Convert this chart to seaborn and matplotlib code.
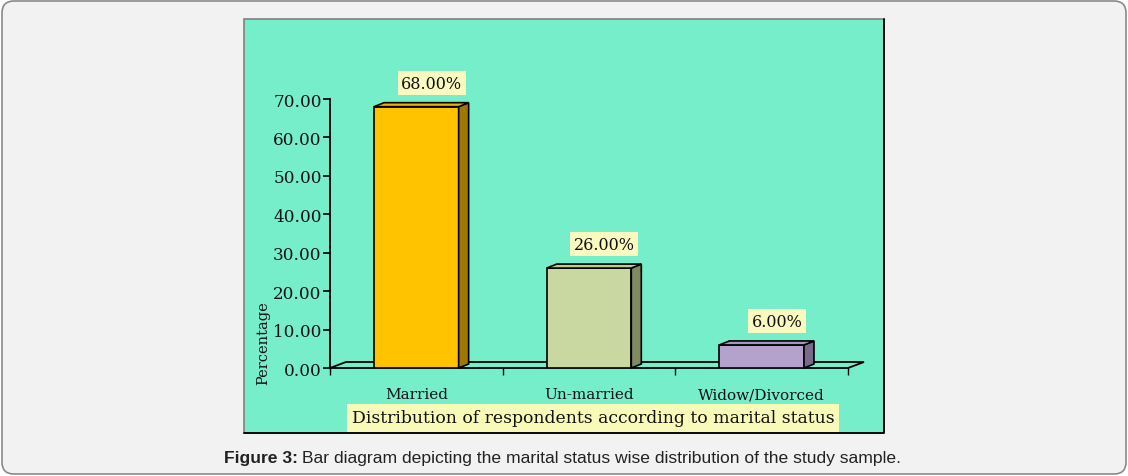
import numpy as np
import matplotlib
matplotlib.use("Agg")
import matplotlib.pyplot as plt
import seaborn as sns
from matplotlib.patches import Polygon, Rectangle, FancyBboxPatch
from matplotlib.transforms import IdentityTransform

# data
categories = ["Married", "Un-married", "Widow/Divorced"]
percentages = [68.00, 26.00, 6.00]
front_colors = ["#FFC300", "#C8D8A0", "#B4A2CC"]
side_colors = ["#A07800", "#7F8A62", "#786A88"]
top_colors = ["#E8B000", "#BBCB92", "#A696BE"]

W, H = 1128, 477
sns.set_theme(style="white")
plt.rcParams["font.family"] = ["DejaVu Serif"]

fig = plt.figure(figsize=(W / 100, H / 100), dpi=100)
fig.patch.set_facecolor("white")

# outer rounded frame
frame = FancyBboxPatch((2, 2), W - 4, H - 4, boxstyle="round,pad=0,rounding_size=12",
                       transform=IdentityTransform(), fc="#F2F2F2", ec="#8A8A8A", lw=1.2,
                       zorder=-3)
fig.patches.append(frame)

# chart panel
px0, py0, px1, py1 = 244, 20, 884, 434
panel = Rectangle((px0 / W, 1 - py1 / H), (px1 - px0) / W, (py1 - py0) / H,
                  transform=fig.transFigure, fc="#76EECA", ec="#808080", lw=1.2, zorder=-2)
fig.patches.append(panel)
fig.lines.append(plt.Line2D([px1 / W, px1 / W, px0 / W], [1 - py0 / H, 1 - py1 / H, 1 - py1 / H],
                            transform=fig.transFigure, color="black", lw=1.3, zorder=-1))

# axes: 0 at y=369, 70 at y=100, x from 330 to 848
ax = fig.add_axes([330 / W, 1 - 369 / H, (848 - 330) / W, (369 - 100) / H])
ax.set_facecolor("none")
ax.set_zorder(1)

sns.barplot(x=categories, y=percentages, hue=categories, palette=front_colors, saturation=1,
            width=0.49, edgecolor="black", linewidth=1.2, legend=False, ax=ax, zorder=3)

ax.set_xlim(-0.5, 2.5)
ax.set_ylim(0, 70)

# pixel -> data conversions for the 3D depth
ppx = (848 - 330) / 3.0
ppy = (369 - 100) / 70.0
bdx, bdy = 10 / ppx, 4 / ppy
fdx, fdy = 16 / ppx, 6 / ppy

# floor
floor = Polygon([(-0.5, 0), (2.5, 0), (2.5 + fdx, fdy), (-0.5 + fdx, fdy)], closed=True,
                fill=False, ec="black", lw=1.3, clip_on=False, zorder=2)
ax.add_patch(floor)

for i, p in enumerate(ax.patches[:len(categories)]):
    x0 = p.get_x()
    x1 = x0 + p.get_width()
    h = p.get_height()
    side = Polygon([(x1, 0), (x1, h), (x1 + bdx, h + bdy), (x1 + bdx, bdy)], closed=True,
                   fc=side_colors[i], ec="black", lw=1.2, clip_on=False, zorder=3)
    top = Polygon([(x0, h), (x1, h), (x1 + bdx, h + bdy), (x0 + bdx, h + bdy)], closed=True,
                  fc=top_colors[i], ec="black", lw=1.2, clip_on=False, zorder=3)
    ax.add_patch(side)
    ax.add_patch(top)
    ax.annotate(f"{percentages[i]:.2f}%", xy=(x0 + p.get_width() / 2, h + bdy),
                xytext=(11, 8), textcoords="offset points", ha="center", va="bottom",
                fontsize=11.5, color="#111111",
                bbox=dict(boxstyle="square,pad=0.22", fc="#FAFAC0", ec="none"))

sns.despine(ax=ax, top=True, right=True, bottom=True)
ax.spines["left"].set_color("black")
ax.spines["left"].set_linewidth(1.3)

ax.set_yticks(np.arange(0, 71, 10))
ax.set_yticklabels([f"{v:.2f}" for v in np.arange(0, 71, 10)], fontsize=12.2, color="#111111")
ax.tick_params(axis="y", direction="out", length=5, width=1.2, color="black", left=True, pad=1)
ax.set_xticks(np.arange(-0.5, 2.6, 1.0), minor=True)
ax.tick_params(axis="x", which="minor", direction="out", length=5, width=1.0, color="black", bottom=True)
ax.tick_params(axis="x", which="major", length=0, pad=14, labelsize=11, labelcolor="#111111")
ax.set_xlabel("")
ax.set_ylabel("")

fig.text(263 / W, 1 - 343 / H, "Percentage", rotation=90, ha="center", va="center",
         fontsize=10.5, color="#111111")
fig.text(593 / W, 1 - 419 / H, "Distribution of respondents according to marital status",
         ha="center", va="center", fontsize=12.4, color="#111111",
         bbox=dict(boxstyle="square,pad=0.3", fc="#F8FAB8", ec="none"))

# caption: bold lead-in followed by regular text
cap_font = ["Liberation Sans", "DejaVu Sans"]
t1 = fig.text(224 / W, 1 - 459 / H, "Figure 3:", ha="left", va="center", fontsize=12.6,
              fontweight="bold", family=cap_font, color="#222222")
fig.canvas.draw()
bb = t1.get_window_extent()
fig.text((bb.x1 + 4) / W, 1 - 459 / H,
         "Bar diagram depicting the marital status wise distribution of the study sample.",
         ha="left", va="center", fontsize=12.6, family=cap_font, color="#222222")

fig.savefig("out.png", dpi=100)
